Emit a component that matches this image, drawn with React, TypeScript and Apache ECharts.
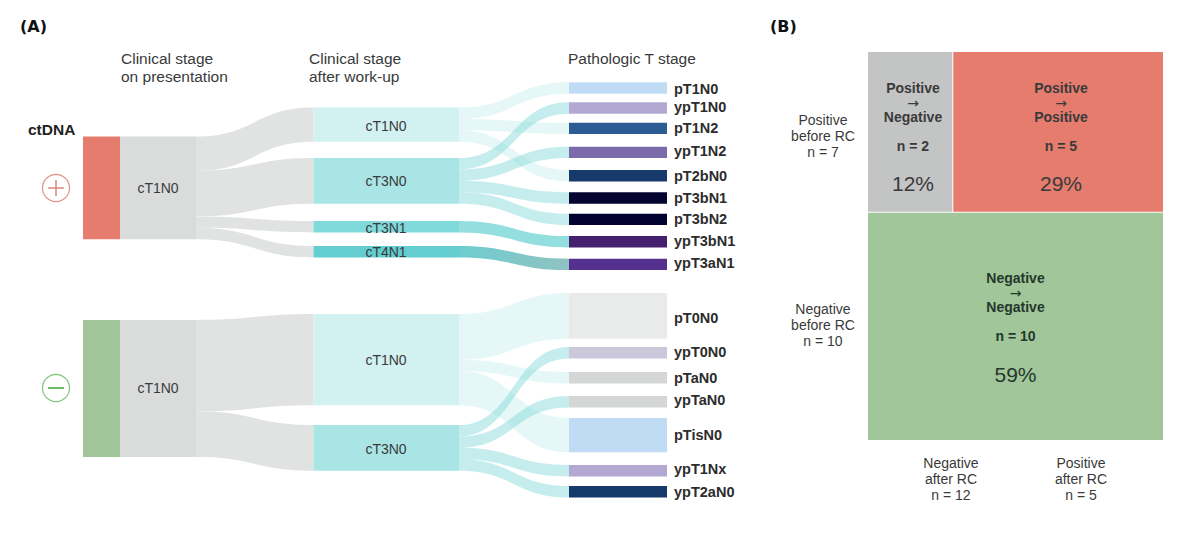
import React, { useEffect, useRef } from "react";
import * as echarts from "echarts";

// ---------- Data (patient counts) ----------
const positiveClinical = ["cT1N0", "cT3N0", "cT3N1", "cT4N1"];
const positiveClinicalCounts = [3, 4, 1, 1];
const positivePathologic = ["pT1N0", "ypT1N0", "pT1N2", "ypT1N2", "pT2bN0", "pT3bN1", "pT3bN2", "ypT3bN1", "ypT3aN1"];
const positivePathologicCounts = [1, 1, 1, 1, 1, 1, 1, 1, 1];
const positivePathologicSource = ["cT1N0", "cT3N0", "cT1N0", "cT3N0", "cT1N0", "cT3N0", "cT3N0", "cT3N1", "cT4N1"];

const negativeClinical = ["cT1N0", "cT3N0"];
const negativeClinicalCounts = [8, 4];
const negativePathologic = ["pT0N0", "ypT0N0", "pTaN0", "ypTaN0", "pTisN0", "ypT1Nx", "ypT2aN0"];
const negativePathologicCounts = [4, 1, 1, 1, 3, 1, 1];
const negativePathologicSource = ["cT1N0", "cT3N0", "cT1N0", "cT3N0", "cT1N0", "cT3N0", "cT3N0"];

const matrixBeforeCounts = [7, 10];
const matrixPositiveSplit = [2, 5];
const matrixPercent = ["12%", "29%", "59%"];

// ---------- Layout and styling ----------
const UNIT = 11.42;
const COL = { ctdna: [83, 120], stage: [120, 196], mid: [313.5, 459], path: [569, 667] };
const BAND_TOP = { positive: 136.5, negative: 320 };
const MID_TOP: any = { positive: [107.5, 158, 221, 246], negative: [314, 425] };
const PATH_TOP: any = {
  positive: [82.3, 102.3, 122.7, 146.7, 170, 192.3, 213.7, 236, 258.7],
  negative: [293, 347, 372, 396, 418, 465, 486],
};
const PATH_LABEL_Y: any = {
  positive: [88.5, 106.5, 128, 150.5, 175.5, 197.7, 219.3, 240.5, 263.3],
  negative: [317.7, 352, 378.3, 400, 435.3, 468.7, 492],
};
const MID_COLOR: any = { cT1N0: "#d2f1f1", cT3N0: "#a9e5e5", cT3N1: "#80d9db", cT4N1: "#63cdd0" };
const LINK_COLOR: any = {
  cT1N0: ["#a8e4e4", 0.3],
  cT3N0: ["#8cdcdc", 0.5],
  cT3N1: ["#80d9db", 0.85],
};
const PATH_COLOR: any = {
  pT1N0: "#c0dcf5", ypT1N0: "#b3a8d2", pT1N2: "#2d5c95", ypT1N2: "#7c6bab", pT2bN0: "#163a6c",
  pT3bN1: "#050530", pT3bN2: "#020230", ypT3bN1: "#44206f", ypT3aN1: "#54308f",
  pT0N0: "#e9eaea", ypT0N0: "#cbc8dc", pTaN0: "#d5d6d6", ypTaN0: "#d5d6d6", pTisN0: "#c0dcf5",
  ypT1Nx: "#b3a8d2", ypT2aN0: "#163a6c",
};
const MATRIX = { left: 868, right: 1163, top: 52, bottom: 440, gap: 1 };
const FONT = '"Liberation Sans", Arial, sans-serif';
const INK = "#3a3a3a";

type Rect = { r: number[]; color: string };
type Link = { v: number[]; color: any; opacity: number };

function buildSankey(
  key: "positive" | "negative",
  clinical: string[],
  clinicalCounts: number[],
  pathologic: string[],
  pathologicCounts: number[],
  pathologicSource: string[],
  ctdnaColor: string
) {
  const rects: Rect[] = [];
  const links: Link[] = [];
  const total = clinicalCounts.reduce((a, b) => a + b, 0);
  const top = BAND_TOP[key];
  rects.push({ r: [COL.ctdna[0], top, COL.ctdna[1], top + total * UNIT], color: ctdnaColor });
  rects.push({ r: [COL.stage[0], top, COL.stage[1], top + total * UNIT], color: "#dadcdc" });
  let y = top;
  clinical.forEach((stage, i) => {
    const h = clinicalCounts[i] * UNIT;
    const midTop = MID_TOP[key][i];
    links.push({ v: [COL.stage[1], y, COL.mid[0], midTop, h], color: "#e1e3e3", opacity: 1 });
    rects.push({ r: [COL.mid[0], midTop, COL.mid[1], midTop + h], color: MID_COLOR[stage] });
    let sy = midTop;
    pathologic.forEach((p, j) => {
      if (pathologicSource[j] !== stage) return;
      const ph = pathologicCounts[j] * UNIT;
      const pt = PATH_TOP[key][j];
      if (stage === "cT4N1") {
        links.push({
          v: [COL.mid[1], sy, COL.path[0], pt, ph],
          color: new echarts.graphic.LinearGradient(0, 0, 1, 0, [
            { offset: 0, color: "#6fcdcf" },
            { offset: 1, color: "#90c2c2" },
          ]),
          opacity: 1,
        });
      } else {
        const [c, o] = LINK_COLOR[stage];
        links.push({ v: [COL.mid[1], sy, COL.path[0], pt, ph], color: c, opacity: o });
      }
      rects.push({ r: [COL.path[0], pt, COL.path[1], pt + ph], color: PATH_COLOR[p] });
      sy += ph;
    });
    y += h;
  });
  return { rects, links };
}

function text(str: string, x: number, y: number, size: number, opts: any = {}) {
  return {
    type: "text",
    silent: true,
    z: 10,
    style: {
      text: str,
      x,
      y,
      fill: opts.fill || INK,
      font: `${opts.bold ? "bold " : ""}${size}px ${opts.family || FONT}`,
      textAlign: opts.align || "center",
      textVerticalAlign: "middle",
    },
  };
}

export default function App() {
  const ref = useRef<HTMLDivElement>(null);
  useEffect(() => {
    const chart = echarts.init(ref.current!, undefined, { renderer: "svg" });
    const pos = buildSankey("positive", positiveClinical, positiveClinicalCounts, positivePathologic, positivePathologicCounts, positivePathologicSource, "#e57c6e");
    const neg = buildSankey("negative", negativeClinical, negativeClinicalCounts, negativePathologic, negativePathologicCounts, negativePathologicSource, "#a0c69a");
    const links = [...pos.links, ...neg.links];
    const rects = [...pos.rects, ...neg.rects];

    // Panel B cells are sized from the counts
    const totalN = matrixBeforeCounts[0] + matrixBeforeCounts[1];
    const H = MATRIX.bottom - MATRIX.top;
    const W = MATRIX.right - MATRIX.left;
    const rowY = MATRIX.top + (H * matrixBeforeCounts[0]) / totalN;
    const colX = MATRIX.left + (W * matrixPositiveSplit[0]) / (matrixPositiveSplit[0] + matrixPositiveSplit[1]);
    const cells: Rect[] = [
      { r: [MATRIX.left, MATRIX.top, colX, rowY], color: "#c3c4c4" },
      { r: [colX + MATRIX.gap, MATRIX.top, MATRIX.right, rowY], color: "#e57c6e" },
      { r: [MATRIX.left, rowY + MATRIX.gap, MATRIX.right, MATRIX.bottom], color: "#a0c69a" },
    ];
    const allRects = [...rects, ...cells];

    const cellText = (cx: number, y0: number, a: string, b: string, n: string, pct: string, fill = INK) => [
      text(a, cx, y0, 14, { bold: true, fill }),
      text("→", cx, y0 + 15, 14, { fill, family: '"DejaVu Sans", sans-serif' }),
      text(b, cx, y0 + 29, 14, { bold: true, fill }),
      text(n, cx, y0 + 58, 14, { bold: true, fill }),
      text(pct, cx, y0 + 96, 21, { fill }),
    ];

    const graphic: any[] = [
      text("(A)", 20, 26, 16, { bold: true, align: "left", fill: "#111", family: '"DejaVu Sans", sans-serif' }),
      text("(B)", 770, 26, 16, { bold: true, align: "left", fill: "#111", family: '"DejaVu Sans", sans-serif' }),
      text("Clinical stage", 121, 58, 15.5, { align: "left" }),
      text("on presentation", 121, 76, 15.5, { align: "left" }),
      text("Clinical stage", 309, 58, 15.5, { align: "left" }),
      text("after work-up", 309, 76, 15.5, { align: "left" }),
      text("Pathologic T stage", 568, 58, 15.5, { align: "left" }),
      text("ctDNA", 28, 129, 15.5, { bold: true, align: "left", fill: "#222" }),
      { type: "circle", z: 10, shape: { cx: 56, cy: 188, r: 13.5 }, style: { fill: "none", stroke: "#dd8a7c", lineWidth: 1.1 } },
      { type: "line", z: 10, shape: { x1: 48, y1: 188, x2: 64, y2: 188 }, style: { stroke: "#dd8a7c", lineWidth: 1.5 } },
      { type: "line", z: 10, shape: { x1: 56, y1: 180, x2: 56, y2: 196 }, style: { stroke: "#dd8a7c", lineWidth: 1.5 } },
      { type: "circle", z: 10, shape: { cx: 56, cy: 388, r: 13.5 }, style: { fill: "none", stroke: "#78c070", lineWidth: 1.1 } },
      { type: "line", z: 10, shape: { x1: 48, y1: 388, x2: 64, y2: 388 }, style: { stroke: "#6dbb65", lineWidth: 2 } },
      text("cT1N0", 158, 188, 14),
      text("cT1N0", 158, 388, 14),
      text("cT1N0", 386, 126, 14),
      text("cT3N0", 386, 181, 14),
      text("cT3N1", 386, 227.7, 14),
      text("cT4N1", 386, 252.3, 14),
      text("cT1N0", 386, 360, 14),
      text("cT3N0", 386, 449, 14),
      ...positivePathologic.map((s, i) => text(s, 674, PATH_LABEL_Y.positive[i], 14.5, { bold: true, align: "left", fill: "#2c2c2c" })),
      ...negativePathologic.map((s, i) => text(s, 674, PATH_LABEL_Y.negative[i], 14.5, { bold: true, align: "left", fill: "#2c2c2c" })),
      text("Positive", 823, 119.5, 14),
      text("before RC", 823, 135.7, 14),
      text("n = 7", 823, 151.7, 14),
      text("Negative", 823, 309, 14),
      text("before RC", 823, 325, 14),
      text("n = 10", 823, 341, 14),
      text("Negative", 951, 463, 14),
      text("after RC", 951, 479, 14),
      text("n = 12", 951, 495, 14),
      text("Positive", 1081, 463, 14),
      text("after RC", 1081, 479, 14),
      text("n = 5", 1081, 495, 14),
      ...cellText(913, 87.7, "Positive", "Negative", `n = ${matrixPositiveSplit[0]}`, matrixPercent[0]),
      ...cellText(1061, 87.7, "Positive", "Positive", `n = ${matrixPositiveSplit[1]}`, matrixPercent[1]),
      ...cellText(1015.5, 278, "Negative", "Negative", `n = ${matrixBeforeCounts[1]}`, matrixPercent[2], "#24382a"),
    ];

    chart.setOption({
      animation: false,
      backgroundColor: "#ffffff",
      grid: { left: 0, right: 0, top: 0, bottom: 0 },
      xAxis: { type: "value", min: 0, max: 1200, show: false },
      yAxis: { type: "value", min: 0, max: 542, inverse: true, show: false },
      graphic,
      series: [
        {
          type: "custom",
          coordinateSystem: "cartesian2d",
          clip: false,
          z: 1,
          data: links.map((l) => l.v),
          renderItem: (params: any, api: any) => {
            const [x0, y0] = api.coord([api.value(0), api.value(1)]);
            const [x1, y1] = api.coord([api.value(2), api.value(3)]);
            const [, yb] = api.coord([0, api.value(1) + api.value(4)]);
            const h = yb - y0;
            const mx = (x0 + x1) / 2;
            const d =
              `M${x0} ${y0}C${mx} ${y0} ${mx} ${y1} ${x1} ${y1}` +
              `L${x1} ${y1 + h}C${mx} ${y1 + h} ${mx} ${y0 + h} ${x0} ${y0 + h}Z`;
            const l = links[params.dataIndex];
            return { type: "path", shape: { pathData: d }, style: { fill: l.color, opacity: l.opacity, stroke: "none" } };
          },
        },
        {
          type: "custom",
          coordinateSystem: "cartesian2d",
          clip: false,
          z: 2,
          data: allRects.map((r) => r.r),
          renderItem: (params: any, api: any) => {
            const [x0, y0] = api.coord([api.value(0), api.value(1)]);
            const [x1, y1] = api.coord([api.value(2), api.value(3)]);
            return {
              type: "rect",
              shape: { x: x0, y: y0, width: x1 - x0, height: y1 - y0 },
              style: { fill: allRects[params.dataIndex].color },
            };
          },
        },
      ],
    });
    return () => chart.dispose();
  }, []);
  return <div ref={ref} style={{ position: "absolute", left: 0, top: 0, width: 1200, height: 542 }} />;
}
